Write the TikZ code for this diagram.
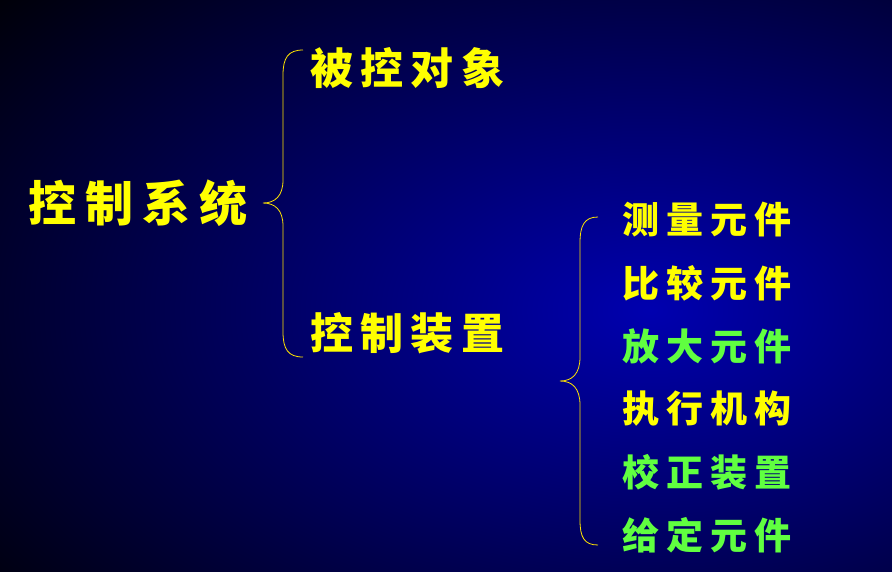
\documentclass[tikz,border=0pt]{standalone}
\usepackage{fontspec}
\newfontfamily\cjk{Noto Sans CJK SC}
\usetikzlibrary{positioning}
\definecolor{yel}{RGB}{255,255,0}
\definecolor{grn}{RGB}{96,255,64}
\definecolor{bgblue}{RGB}{0,0,175}

\begin{document}
\begin{tikzpicture}[x=1pt,y=-1pt,
    big/.style={anchor=west,inner sep=0pt,text=yel,
      font=\cjk\bfseries\fontsize{48}{52}\selectfont\addfontfeatures{LetterSpace=19}},
    mid/.style={anchor=west,inner sep=0pt,text=yel,
      font=\cjk\bfseries\fontsize{43}{48}\selectfont\addfontfeatures{LetterSpace=17}},
    item/.style={anchor=west,inner sep=0pt,
      font=\cjk\bfseries\fontsize{37}{40}\selectfont\addfontfeatures{LetterSpace=19}},
    brace/.style={draw=yel!80!orange,line width=0.8pt}]
        % background
        \useasboundingbox (0,0) rectangle (892,571);
        \clip (0,0) rectangle (892,571);
        \fill[black] (-5,-5) rectangle (897,576);
        \shade[inner color=bgblue,outer color=black] (650,310) ellipse [x radius=880,y radius=520];

        % first level
        \node[big] (sys) at (28,203) {控制系统};

        % second level
        \node[mid] (plant) at (310,68) {被控对象};
        \node[mid] (device) at (310,333) {控制装置};

        % parts of the control device
        \foreach \txt/\col [count=\i] in {测量元件/yel,比较元件/yel,放大元件/grn,
                                          执行机构/yel,校正装置/grn,给定元件/grn}
            \node[item,text=\col] (part\i) at (622,{157+63*\i}) {\txt};

        % the braces
        \coordinate (b1top) at (303,50);
        \coordinate (b1tip) at (263,203);
        \coordinate (b1bot) at (303,357);
        \draw[brace] (b1top) .. controls (288,50) and (283,58) .. (283,75)
              -- (283,180) .. controls (283,196) and (275,203) .. (b1tip)
              .. controls (275,203) and (283,210) .. (283,226)
              -- (283,332) .. controls (283,349) and (288,357) .. (b1bot);
        \coordinate (b2top) at (598,217);
        \coordinate (b2tip) at (560,381);
        \coordinate (b2bot) at (598,545);
        \draw[brace] (b2top) .. controls (584,217) and (580,226) .. (580,243)
              -- (580,357) .. controls (580,374) and (572,381) .. (b2tip)
              .. controls (572,381) and (580,388) .. (580,405)
              -- (580,520) .. controls (580,537) and (584,545) .. (b2bot);
    \end{tikzpicture}
\end{document}
